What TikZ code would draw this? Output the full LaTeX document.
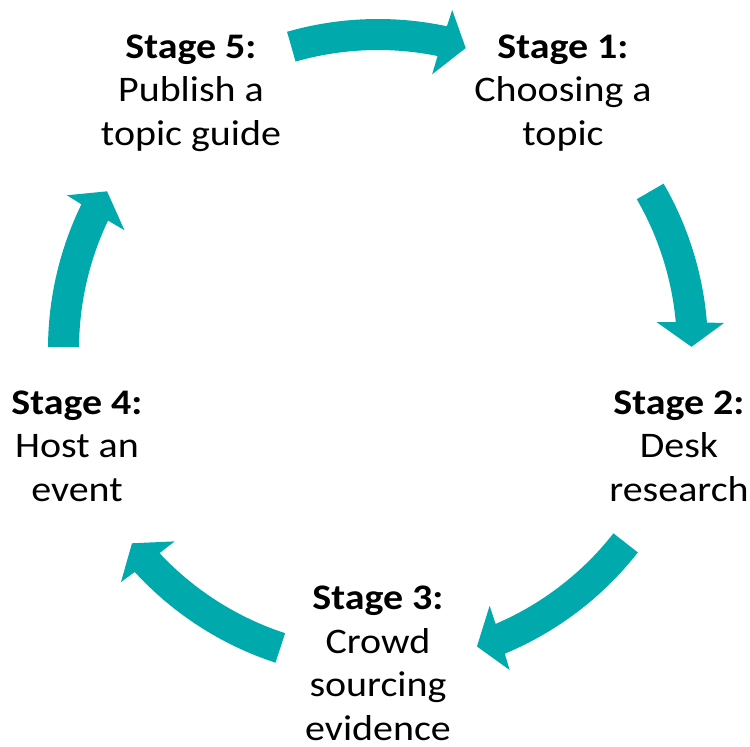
\documentclass[tikz,border=0pt]{standalone}
\usepackage{fontspec}
\setmainfont{Carlito}[FakeStretch=1.11]
\definecolor{cyc}{RGB}{0,169,172}
\newcommand\cyclearrow[2]{%
  \fill[cyc] (#1:330) arc[start angle=#1, end angle={#2+4.2}, radius=330]
    -- ({#2+3.9}:347) -- (#2:313.5) -- ({#2+5.1}:280) -- ({#2+4.76}:299)
    arc[start angle={#2+4.76}, end angle=#1, radius=299] -- cycle;}
\begin{document}
\begin{tikzpicture}[x=1pt,y=1pt,
  lbl/.style={align=center, anchor=base, inner sep=0pt, font=\fontsize{36}{43.5}\selectfont}]
\useasboundingbox (0,0) rectangle (750,-747);
\begin{scope}[shift={(378,-349)}]
\cyclearrow{106}{73.75}
\cyclearrow{30.07}{0.4}
\cyclearrow{-38.06}{-71.6}
\cyclearrow{-108.1}{-141.7}
\cyclearrow{179.65}{149.8}
\end{scope}
\node[lbl] (s1) at (563,-145) {\textbf{Stage 1:}\\Choosing a\\topic};
\node[lbl] (s2) at (679,-501) {\textbf{Stage 2:}\\Desk\\research};
\node[lbl] (s3) at (378,-740) {\textbf{Stage 3:}\\Crowd\\sourcing\\evidence};
\node[lbl] (s4) at (77,-501) {\textbf{Stage 4:}\\Host an\\event};
\node[lbl] (s5) at (191,-145) {\textbf{Stage 5:}\\Publish a\\topic guide};
\end{tikzpicture}
\end{document}
